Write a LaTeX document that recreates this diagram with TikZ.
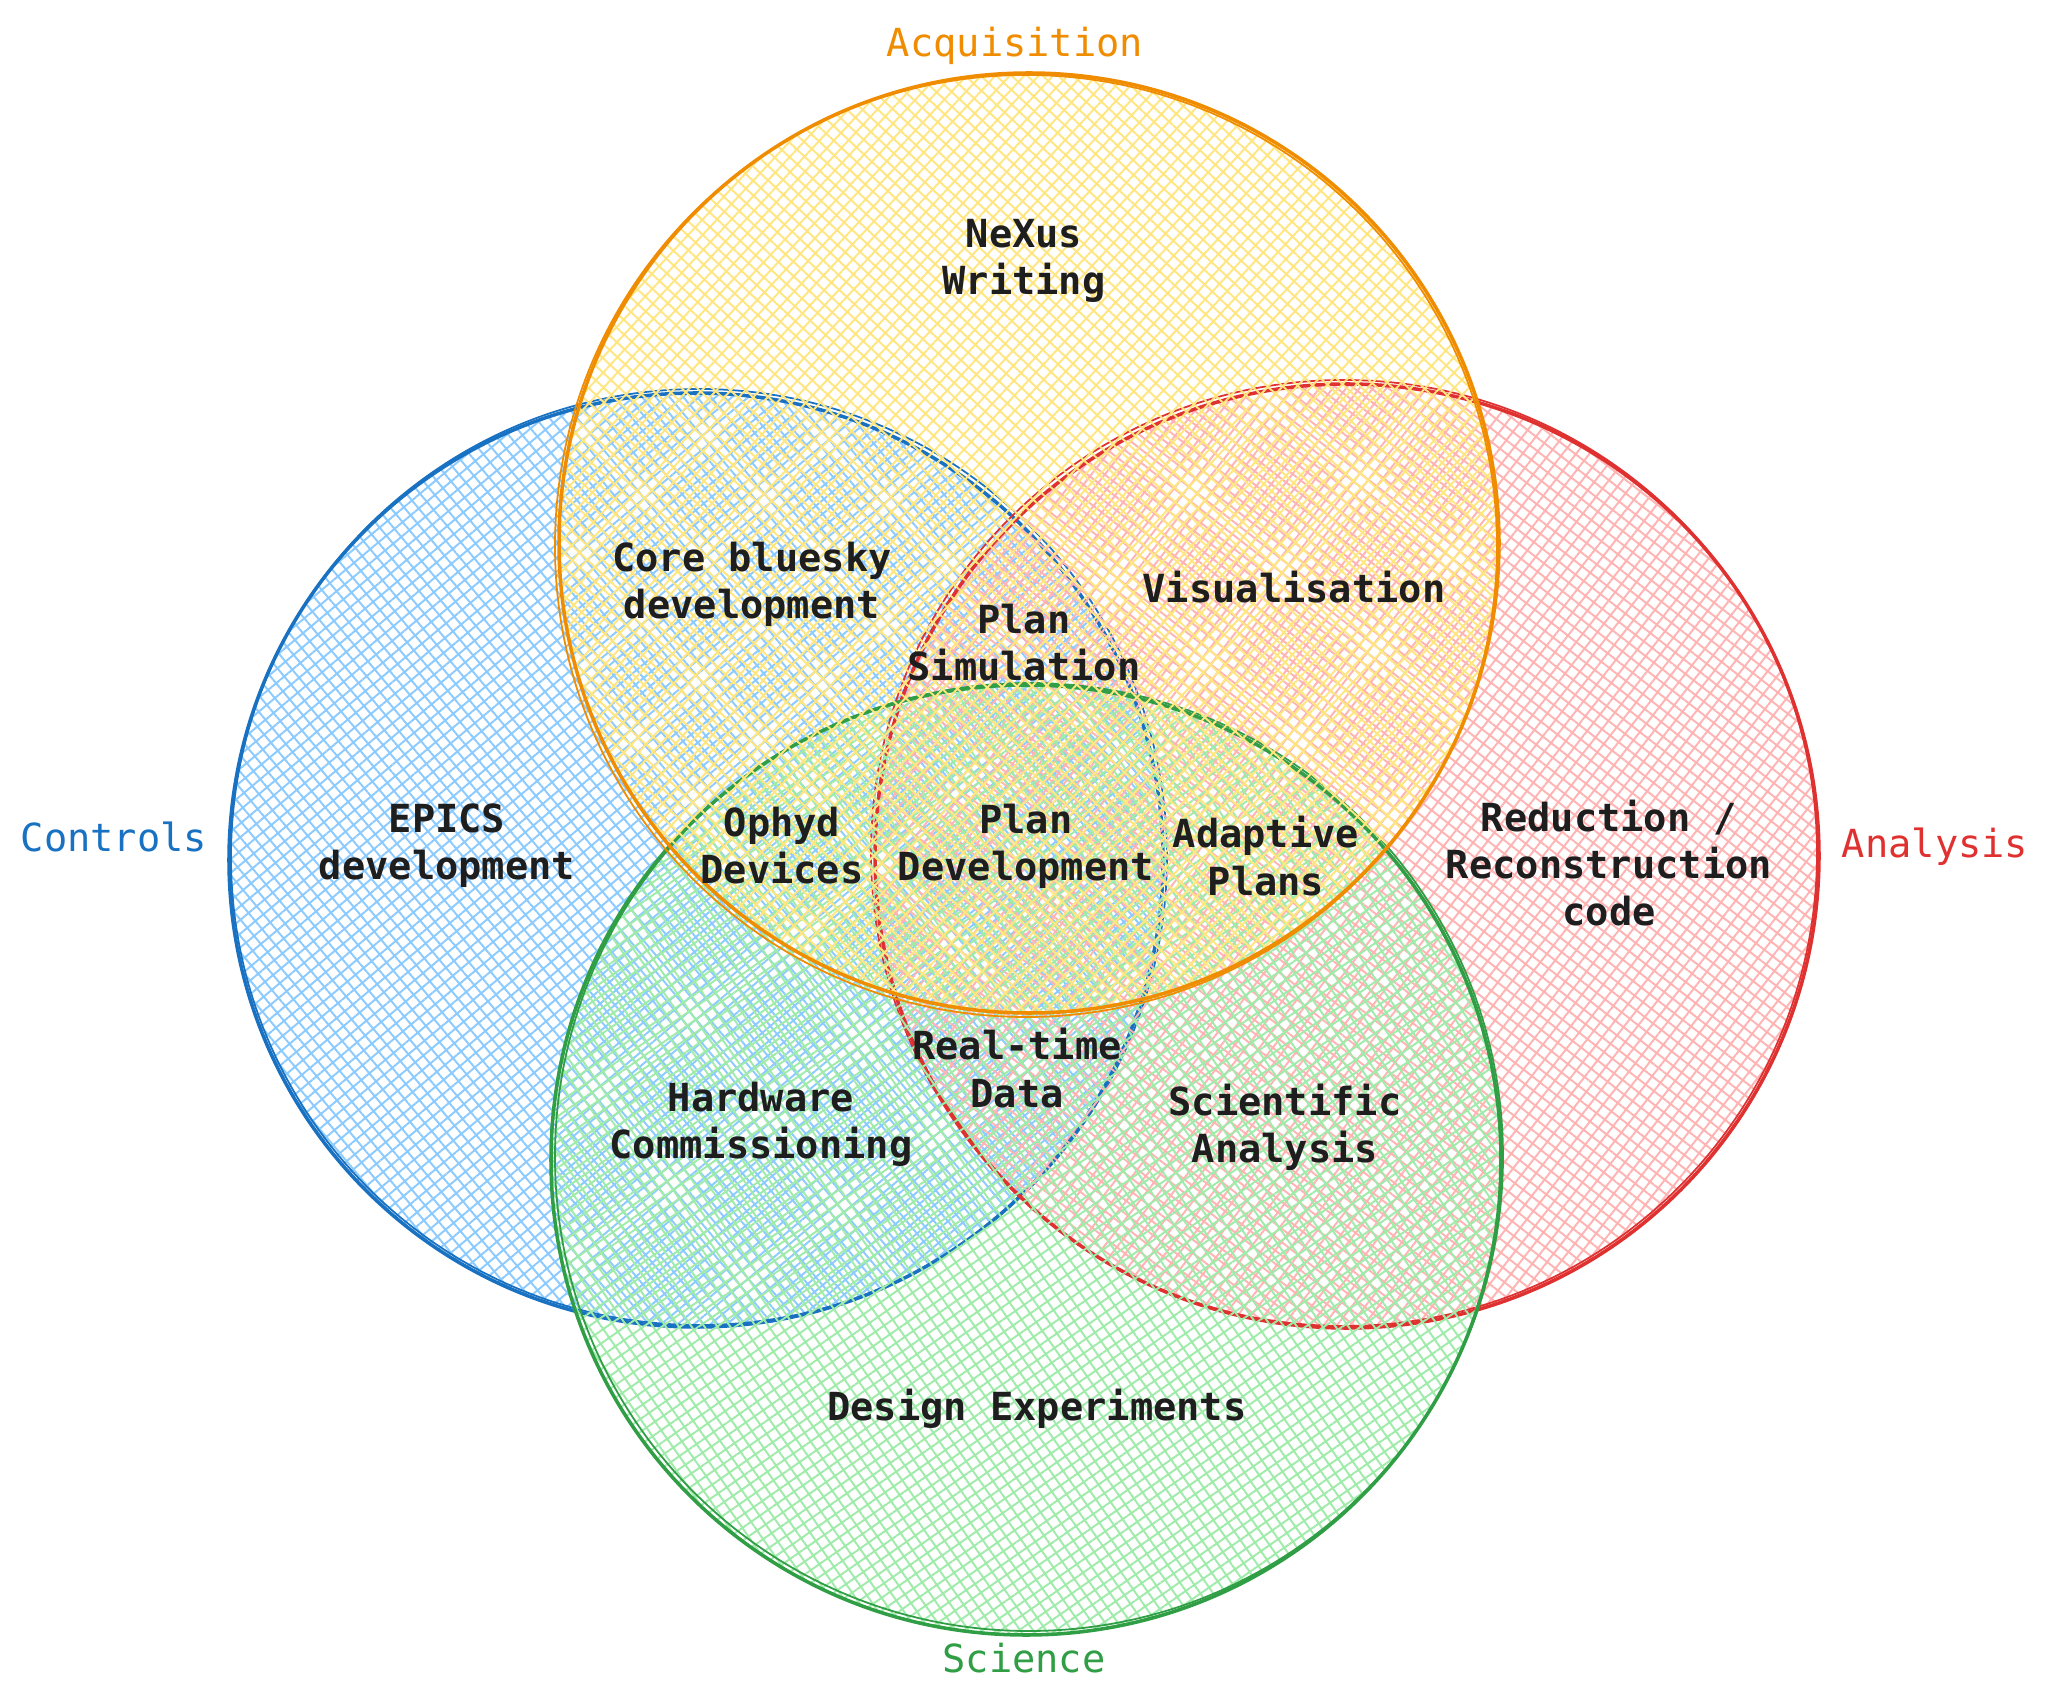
\documentclass[tikz,border=0pt]{standalone}
\usepackage{xcolor}
\usepackage{fontspec}
\setmonofont{DejaVu Sans Mono}
\usepackage{tikz}
\usetikzlibrary{positioning, patterns.meta}
\definecolor{acqline}{HTML}{F08C00}
\definecolor{acqfill}{HTML}{FFE680}
\definecolor{ctlline}{HTML}{1971C2}
\definecolor{ctlfill}{HTML}{8CCBFF}
\definecolor{analine}{HTML}{E03131}
\definecolor{anafill}{HTML}{FFB3B3}
\definecolor{sciline}{HTML}{2F9E44}
\definecolor{scifill}{HTML}{9FEBAA}
\definecolor{inktext}{HTML}{1E1E1E}

\tikzset{
  hatchfill/.style 2 args={pattern={Hatch[angle=#2,distance=3pt,line width=0.55pt]}, pattern color=#1, fill opacity=0.75},
  rimline/.style={draw=#1, line width=1pt},
  setlabel/.style={font=\ttfamily\fontsize{11}{13.4}\selectfont, text=#1},
  region/.style={font=\ttfamily\bfseries\fontsize{11}{13.4}\selectfont, text=inktext, align=center}
}

\begin{document}
\begin{tikzpicture}[x=0.01cm, y=-0.01cm]
    \useasboundingbox[fill=white] (0,0) rectangle (2050,1700);
    % the four sets
    \path[hatchfill={ctlfill}{40}] (696,860) circle (467);
    \draw[rimline=ctlline] (696,860) circle (467);
    \draw[rimline=ctlline, line width=0.5pt] (699,857) circle (468);
    \path[hatchfill={anafill}{52}] (1347,856) circle (472);
    \draw[rimline=analine] (1347,856) circle (472);
    \draw[rimline=analine, line width=0.5pt] (1344,853) circle (473);
    \path[hatchfill={scifill}{35}] (1026,1160) circle (475);
    \draw[rimline=sciline] (1026,1160) circle (475);
    \draw[rimline=sciline, line width=0.5pt] (1029,1157) circle (474);
    \path[hatchfill={acqfill}{47}] (1029,543) circle (470);
    \draw[rimline=acqline] (1029,543) circle (470);
    \draw[rimline=acqline, line width=0.5pt] (1026,546) circle (471);

    % set names
    \node[setlabel=acqline] (acqname) at (1015,46) {Acquisition};
    \node[setlabel=ctlline] (ctlname) at (114,837) {Controls};
    \node[setlabel=analine] (ananame) at (1935,847) {Analysis};
    \node[setlabel=sciline] (sciname) at (1024,1658) {Science};

    % regions
    \node[region] (nexus) at (1024,261) {NeXus\\Writing};
    \node[region] (corebs) at (752,584) {Core bluesky\\development};
    \node[region] (visual) at (1294,587) {Visualisation};
    \node[region] (plansim) at (1024,643) {Plan\\Simulation};
    \node[region] (epics) at (447,846) {EPICS\\development};
    \node[region] (ophyd) at (782,846) {Ophyd\\Devices};
    \node[region] (plandev) at (1026,846) {Plan\\Development};
    \node[region] (adaptive) at (1266,856) {Adaptive\\Plans};
    \node[region] (reduction) at (1609,863) {Reduction /\\Reconstruction\\code};
    \node[region] (realtime) at (1017,1068) {Real-time\\Data};
    \node[region] (hardware) at (761,1124) {Hardware\\Commissioning};
    \node[region] (scientific) at (1285,1127) {Scientific\\Analysis};
    \node[region] (design) at (1037,1409) {Design Experiments};
  \end{tikzpicture}
\end{document}
